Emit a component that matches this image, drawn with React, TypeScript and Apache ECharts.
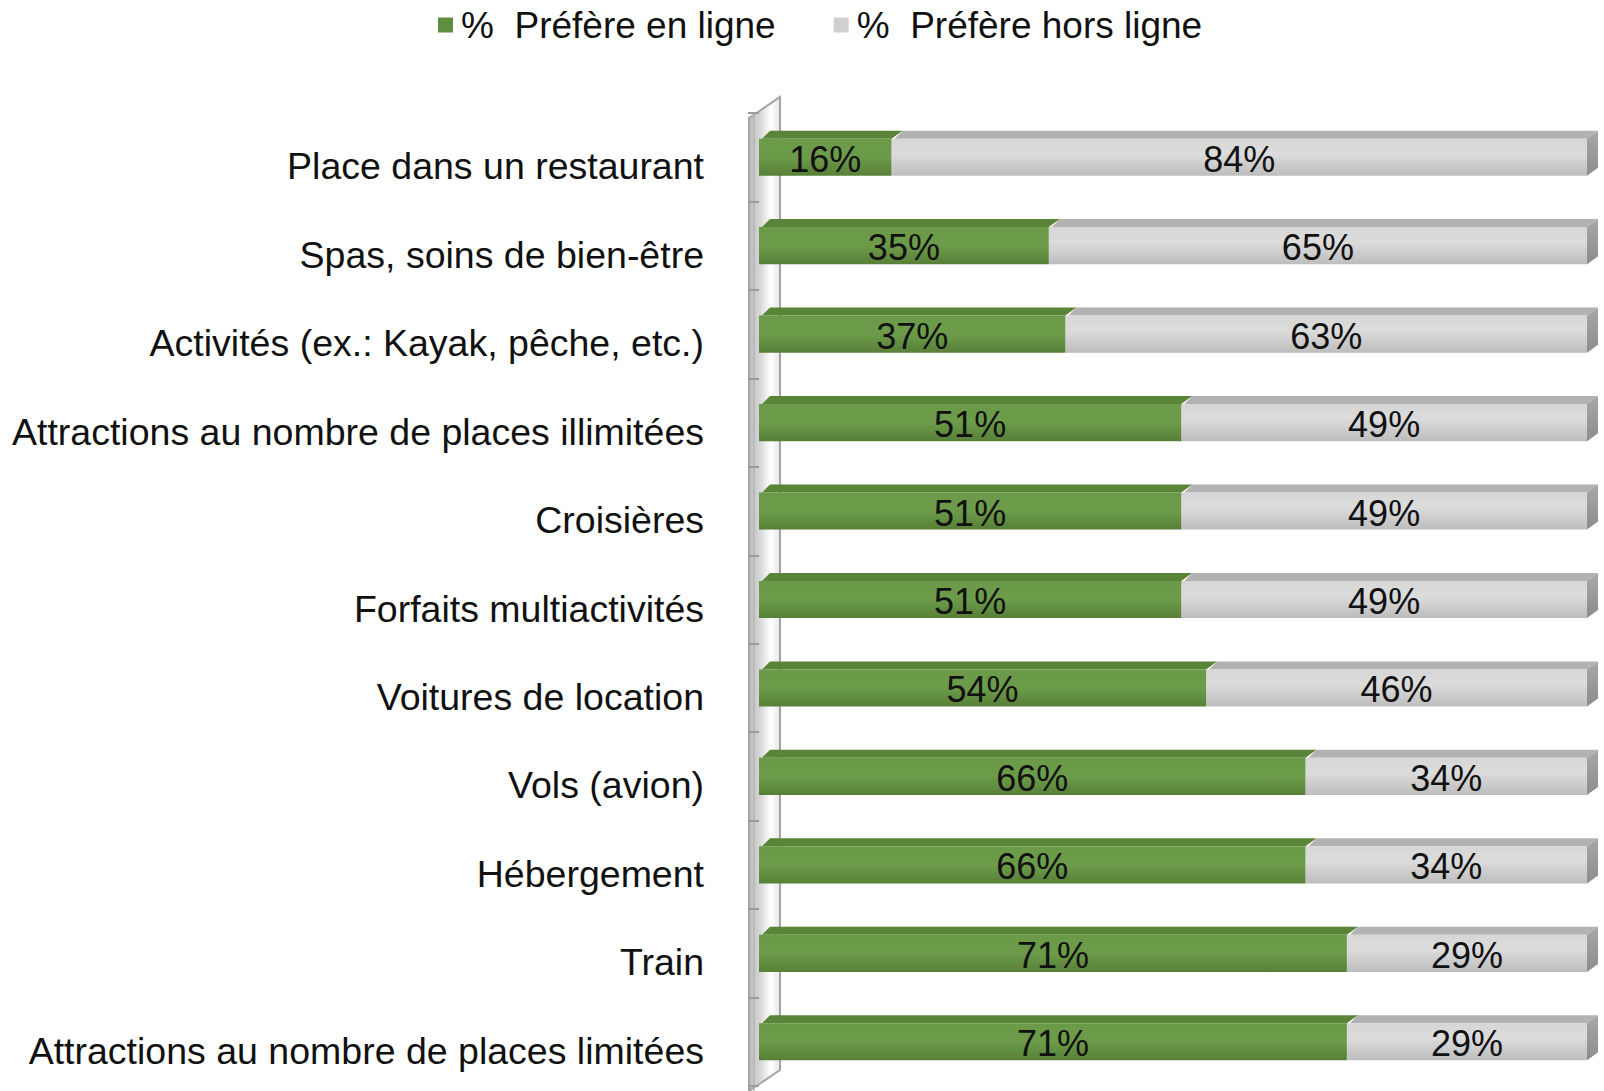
import React, { useEffect, useRef } from "react";
import * as echarts from "echarts";

const categories = [
  "Place dans un restaurant",
  "Spas, soins de bien-être",
  "Activités (ex.: Kayak, pêche, etc.)",
  "Attractions au nombre de places illimitées",
  "Croisières",
  "Forfaits multiactivités",
  "Voitures de location",
  "Vols (avion)",
  "Hébergement",
  "Train",
  "Attractions au nombre de places limitées",
];
const online = [16, 35, 37, 51, 51, 51, 54, 66, 66, 71, 71];
const offline = [84, 65, 63, 49, 49, 49, 46, 34, 34, 29, 29];
const seriesNames = ["%  Préfère en ligne", "%  Préfère hors ligne"];

const FONT = "'Liberation Sans', Arial, Helvetica, sans-serif";
const DX = 11;
const DY = 8;

function makeRender(isOnline: boolean) {
  return (params: any, api: any) => {
    const on = api.value(0);
    const off = api.value(1);
    const idx = api.value(2);
    const startV = isOnline ? 0 : on;
    const endV = isOnline ? on : on + off;
    const p0 = api.coord([startV, idx]);
    const p1 = api.coord([endV, idx]);
    const band = api.size([0, 1])[1];
    const h = band * 0.42;
    const yTop = p0[1] - h / 2;
    const x0 = p0[0];
    const x1 = p1[0];
    const frontFill = isOnline
      ? new echarts.graphic.LinearGradient(0, 0, 0, 1, [
          { offset: 0, color: "#6b9a48" },
          { offset: 0.5, color: "#6c9c49" },
          { offset: 1, color: "#587f38" },
        ])
      : new echarts.graphic.LinearGradient(0, 0, 0, 1, [
          { offset: 0, color: "#d6d6d6" },
          { offset: 0.4, color: "#dcdcdc" },
          { offset: 1, color: "#bdbdbd" },
        ]);
    const topFill = isOnline ? "#5a8437" : "#b2b2b2";
    const children: any[] = [
      {
        type: "polygon",
        shape: {
          points: [
            [x0 + 3, yTop],
            [x0 + DX, yTop - DY],
            [x1 + DX, yTop - DY],
            [x1, yTop],
          ],
        },
        style: { fill: topFill },
      },
      {
        type: "rect",
        shape: { x: x0, y: yTop, width: x1 - x0, height: h },
        style: { fill: frontFill },
      },
    ];
    if (!isOnline) {
      children.push({
        type: "polygon",
        shape: {
          points: [
            [x1, yTop],
            [x1 + DX, yTop - DY],
            [x1 + DX, yTop + h - DY],
            [x1, yTop + h],
          ],
        },
        style: {
          fill: new echarts.graphic.LinearGradient(0, 0, 0, 1, [
            { offset: 0, color: "#a8a8a8" },
            { offset: 1, color: "#8c8c8c" },
          ]),
        },
      });
    }
    children.push({
      type: "text",
      style: {
        text: (isOnline ? on : off) + "%",
        x: (x0 + x1) / 2,
        y: yTop + h / 2 + 2,
        align: "center",
        verticalAlign: "middle",
        font: `36px ${FONT}`,
        fill: "#111111",
      },
    });
    return { type: "group", children };
  };
}

export default function App() {
  const ref = useRef<HTMLDivElement>(null);
  useEffect(() => {
    if (!ref.current) return;
    const chart = echarts.init(ref.current, undefined, { renderer: "svg" });
    const rows = categories.map((_, i) => [online[i], offline[i], i]);
    const option: any = {
      animation: false,
      backgroundColor: "#ffffff",
      legend: {
        data: seriesNames,
        left: 433,
        top: 0,
        itemWidth: 15,
        itemHeight: 15,
        itemGap: 58,
        icon: "rect",
        textStyle: {
          fontFamily: FONT,
          fontSize: 37,
          color: "#111111",
          lineHeight: 40,
          padding: [0, 0, 0, 3],
        },
      },
      grid: { left: 759, right: 17, top: 113, bottom: 5 },
      xAxis: {
        type: "value",
        min: 0,
        max: 100,
        show: false,
      },
      yAxis: {
        type: "category",
        data: categories,
        inverse: true,
        offset: 10,
        axisLine: { show: false },
        axisTick: {
          show: true,
          length: 11,
          lineStyle: { color: "#9a9a9a", width: 2 },
        },
        axisLabel: {
          fontFamily: FONT,
          fontSize: 37.5,
          color: "#111111",
          margin: 45,
          verticalAlign: "top",
          lineHeight: 18,
        },
        splitLine: { show: false },
      },
      graphic: [
        {
          type: "polygon",
          z: 0,
          shape: {
            points: [
              [749, 118],
              [780, 97],
              [780, 1070],
              [749, 1091],
            ],
          },
          style: {
            fill: new echarts.graphic.LinearGradient(0, 0, 1, 0, [
              { offset: 0, color: "#bdbdbd" },
              { offset: 0.35, color: "#d6d6d6" },
              { offset: 0.7, color: "#ffffff" },
              { offset: 1, color: "#e6e6e6" },
            ]),
            stroke: "#a3a3a3",
            lineWidth: 2,
          },
        },
        {
          type: "line",
          z: 0,
          shape: { x1: 754, y1: 115, x2: 754, y2: 1091 },
          style: { stroke: "#b5b5b5", lineWidth: 1.5 },
        },
      ],
      series: [
        {
          name: seriesNames[0],
          type: "custom",
          renderItem: makeRender(true),
          encode: { x: [0, 1], y: 2 },
          itemStyle: { color: "#5f8f3e" },
          data: rows,
          z: 3,
        },
        {
          name: seriesNames[1],
          type: "custom",
          renderItem: makeRender(false),
          encode: { x: [0, 1], y: 2 },
          itemStyle: { color: "#d0d0d0" },
          data: rows,
          z: 2,
        },
      ],
    };
    chart.setOption(option);
    return () => chart.dispose();
  }, []);
  return (
    <div
      ref={ref}
      style={{ position: "absolute", left: 0, top: 0, width: 1604, height: 1091 }}
    />
  );
}
